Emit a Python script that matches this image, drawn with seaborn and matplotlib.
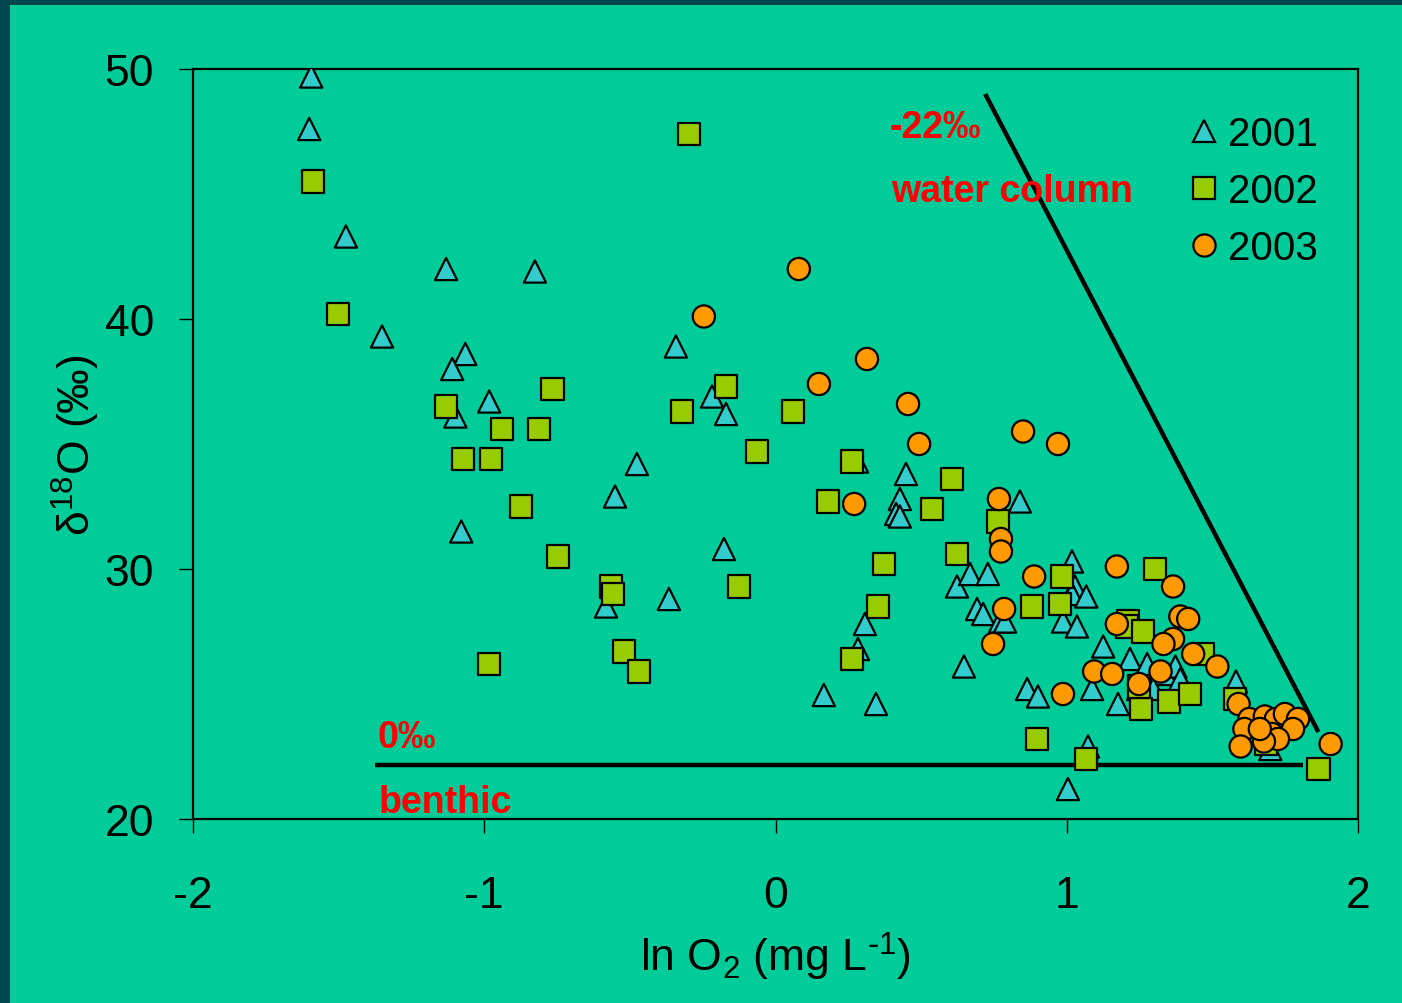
import numpy as np
import pandas as pd
import matplotlib.pyplot as plt
import matplotlib.patches as mpatches
import seaborn as sns

# ===== DATA =====
x_2001 = [-1.594, -1.601, -1.475, -1.131, -0.826, -1.351, -1.065, -1.110, -1.099, -0.983,
          -0.342, -0.476, -0.551, -1.079, -0.582, -0.366, -0.177, -0.218, -0.170, 0.166,
          0.345, 0.280, 0.307, 0.283, 0.448, 0.427, 0.414, 0.427, 0.839, 0.623,
          0.668, 0.729, 0.692, 0.713, 0.771, 0.788, 0.647, 0.864, 0.901, 1.004,
          1.073, 1.018, 0.994, 1.028, 0.987, 1.035, 1.125, 1.087, 1.176, 1.217,
          1.276, 1.339, 1.373, 1.390, 1.245, 1.581, 1.297, 1.699, 1.018, 1.067]
y_2001 = [49.7, 47.6, 43.3, 42.0, 41.9, 39.3, 38.6, 38.0, 36.1, 36.7,
          38.9, 34.2, 32.9, 31.5, 28.5, 28.8, 30.8, 36.9, 36.2, 24.96,
          24.6, 34.3, 27.8, 26.8, 33.8, 32.8, 32.2, 32.1, 32.7, 29.3,
          29.8, 29.8, 28.4, 28.2, 27.9, 27.9, 26.1, 25.2, 24.9, 21.2,
          22.9, 30.3, 29.7, 29.3, 27.9, 27.7, 26.9, 25.2, 24.6, 26.4,
          26.2, 25.8, 26.1, 25.6, 25.2, 25.5, 25.2, 22.8, 29.0, 28.9]

x_2002 = [-1.587, -1.502, -0.297, -1.131, -1.073, -0.939, -0.976, -0.811, -0.766, -0.874,
          -0.747, -0.565, -0.558, -0.983, -0.520, -0.468, -0.321, -0.170, -0.063, -0.125,
          0.060, 0.180, 0.263, 0.373, 0.352, 0.263, 0.537, 0.606, 0.623, 0.764,
          0.881, 0.898, 0.984, 0.977, 1.066, 1.303, 1.210, 1.207, 1.262, 1.255,
          1.351, 1.423, 1.468, 1.578, 1.685, 1.864, 1.249]
y_2002 = [45.5, 40.2, 47.4, 36.5, 34.4, 35.6, 34.4, 35.6, 37.2, 32.5,
          30.5, 29.3, 29.0, 26.2, 26.7, 25.9, 36.3, 37.3, 34.7, 29.3,
          36.3, 32.7, 34.3, 30.2, 28.5, 26.4, 32.4, 33.6, 30.6, 31.9,
          28.5, 23.2, 29.7, 28.6, 22.4, 30.0, 27.9, 27.7, 27.5, 24.4,
          24.7, 25.0, 26.6, 24.8, 23.0, 22.0, 25.3]

x_2003 = [0.080, -0.246, 0.149, 0.314, 0.455, 0.493, 0.270, 0.850, 0.970, 0.767,
          0.774, 0.774, 0.888, 0.785, 0.747, 0.987, 1.172, 1.365, 1.390, 1.417,
          1.172, 1.365, 1.332, 1.434, 1.094, 1.156, 1.322, 1.248, 1.517, 1.590,
          1.627, 1.610, 1.597, 1.680, 1.718, 1.749, 1.794, 1.777, 1.705, 1.725,
          1.677, 1.906, 1.663]
y_2003 = [42.0, 40.1, 37.4, 38.4, 36.6, 35.0, 32.6, 35.5, 35.0, 32.8,
          31.2, 30.7, 29.7, 28.4, 27.0, 25.0, 30.1, 29.3, 28.1, 28.0,
          27.8, 27.2, 27.0, 26.6, 25.9, 25.8, 25.9, 25.4, 26.1, 24.6,
          24.0, 23.6, 22.9, 24.1, 24.0, 24.2, 24.0, 23.6, 23.4, 23.2,
          23.1, 23.0, 23.6]

years = ["2001", "2002", "2003"]

# reference lines: -22 permil (water column) and 0 permil (benthic)
water_x = [0.720, 1.864]
water_y = [49.0, 23.48]
benthic_x = [-1.375, 1.811]
benthic_y = [22.16, 22.16]

df = pd.concat([
    pd.DataFrame({"lnO2": x_2001, "d18O": y_2001, "year": "2001"}),
    pd.DataFrame({"lnO2": x_2002, "d18O": y_2002, "year": "2002"}),
    pd.DataFrame({"lnO2": x_2003, "d18O": y_2003, "year": "2003"}),
], ignore_index=True)

# ===== STYLE =====
bg = "#00CC99"
sns.set_style("ticks")
plt.rcParams["font.family"] = ["Liberation Sans", "DejaVu Sans"]
plt.rcParams["mathtext.default"] = "regular"
plt.rcParams["axes.unicode_minus"] = False
for key in ["text.color", "axes.labelcolor", "xtick.color", "ytick.color"]:
    plt.rcParams[key] = "black"

palette = {"2001": "#33CCCC", "2002": "#99CC00", "2003": "#FF9900"}
markers = {"2001": "^", "2002": "s", "2003": "o"}

fig = plt.figure(figsize=(14.02, 10.04), dpi=100, facecolor=bg)
# dark edge along left and top of the slide
fig.patches.append(mpatches.Rectangle((0, 0), 10 / 1402, 1, transform=fig.transFigure,
                                      facecolor="#00474F", edgecolor="none", zorder=0))
fig.patches.append(mpatches.Rectangle((0, 1 - 6 / 1004), 1, 6 / 1004, transform=fig.transFigure,
                                      facecolor="#00474F", edgecolor="none", zorder=0))

ax = fig.add_axes([193 / 1402, 184 / 1004, 1165 / 1402, 750 / 1004])
ax.set_facecolor(bg)

sns.scatterplot(
    data=df, x="lnO2", y="d18O", hue="year", style="year",
    palette=palette, markers=markers, hue_order=years, style_order=years,
    s=256, edgecolor="black", linewidth=1.6, ax=ax, zorder=3,
)

ax.plot(water_x, water_y, color="black", lw=3.2, zorder=2, solid_capstyle="butt")
ax.plot(benthic_x, benthic_y, color="black", lw=3.2, zorder=2, solid_capstyle="butt")

red_kw = dict(color="#FF0000", fontsize=27, fontweight="bold", va="center", ha="left")
ax.text(0.393, 47.68, "-22‰", **red_kw)
ax.text(0.396, 45.12, "water column", **red_kw)
ax.text(-1.365, 23.28, "0‰", **red_kw)
ax.text(-1.362, 20.68, "benthic", **red_kw)

ax.set_xlim(-2, 2)
ax.set_ylim(20, 50)
ax.set_xticks([-2, -1, 0, 1, 2])
ax.set_yticks([20, 30, 40, 50])
ax.tick_params(axis="both", labelsize=32, colors="black", width=1.0, length=10, direction="out")
ax.tick_params(axis="y", pad=18)
ax.tick_params(axis="x", pad=30)
for sp in ax.spines.values():
    sp.set_visible(True)
    sp.set_color("black")
    sp.set_linewidth(1.6)

ax.set_xlabel(r"ln O$_2$ (mg L$^{\text{-}1}$)", fontsize=32, labelpad=10)
ax.set_ylabel(r"δ$^{18}$O (‰)", fontsize=32, labelpad=2)

sns.move_legend(ax, "upper left", bbox_to_anchor=(0.8506, 0.938), title=None,
                frameon=False, fontsize=29, handlelength=1.0, handletextpad=0.1,
                labelspacing=0.47, borderaxespad=0, borderpad=0, markerscale=1.0)
for h in ax.get_legend().legend_handles:
    if hasattr(h, "set_markeredgecolor"):
        h.set_markeredgecolor("black")
        h.set_markeredgewidth(1.6)
        h.set_markersize(16)
    else:
        h.set_edgecolor("black")
        h.set_linewidth(1.6)
        h.set_sizes([256])
for t in ax.get_legend().get_texts():
    t.set_color("black")

fig.savefig("out.png", dpi=100, facecolor=bg)
